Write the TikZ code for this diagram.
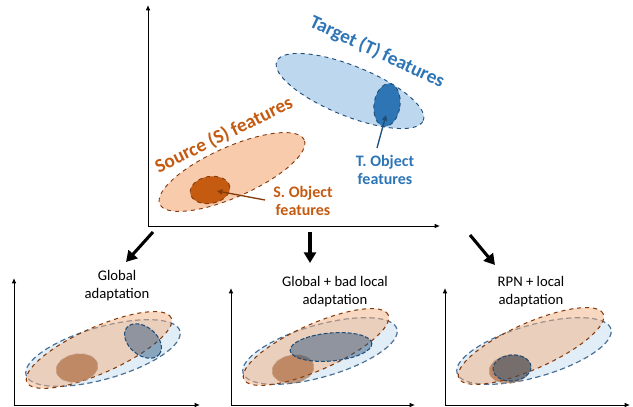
\documentclass[tikz,border=0pt]{standalone}
\usepackage{fontspec}
\setmainfont{Carlito}
\usetikzlibrary{arrows.meta}

\definecolor{srcfill}{HTML}{F8CBAD}
\definecolor{srcline}{HTML}{843C0C}
\definecolor{srctext}{HTML}{C55A11}
\definecolor{tgtfill}{HTML}{BDD7EE}
\definecolor{tgtline}{HTML}{1F4E79}
\definecolor{tgttext}{HTML}{2E75B6}
\definecolor{mixsrc}{HTML}{F4B183}
\definecolor{mixtgt}{HTML}{9DC3E6}

\begin{document}
\begin{tikzpicture}[x=0.75pt, y=0.75pt,
    axis/.style={-{Latex[length=4pt,width=3.5pt]}, line width=0.7pt},
    bigarrow/.style={-{Triangle[length=8pt,width=9pt]}, line width=2.3pt},
    srcbox/.style={fill=srcfill, draw=srcline, dashed, line width=0.7pt},
    tgtbox/.style={fill=tgtfill, draw=tgtline, dashed, line width=0.7pt},
    srcobj/.style={fill=srctext, draw=srcline, dashed, line width=0.7pt},
    tgtobj/.style={fill=tgttext, draw=tgtline, dashed, line width=0.7pt},
    srcbig/.style={fill=mixsrc, fill opacity=0.5, draw=srcline, dashed, line width=0.8pt},
    tgtbig/.style={fill=mixtgt, fill opacity=0.3, draw=tgtline!80, dash pattern=on 4pt off 2.5pt, line width=0.9pt},
    srcsmall/.style={fill=srctext!75!black, fill opacity=0.5, draw=srcline!50, dashed, line width=0.6pt},
    tgtsmall/.style={fill=tgtline, fill opacity=0.45, draw=tgtline, dash pattern=on 3pt off 1.5pt, line width=0.8pt},
    title/.style={font=\fontsize{14.5}{16}\selectfont\bfseries},
    objlabel/.style={font=\fontsize{12}{13.5}\selectfont\bfseries, align=center},
    panellabel/.style={font=\fontsize{11}{13.5}\selectfont, align=center}]
    \useasboundingbox (0,0) rectangle (633,407);

    % Axes of the feature space
    \draw[axis] (148,181) -- (148,402);
    \draw[axis] (148,181) -- (440,181);

    % Source and target distributions
    \draw[srcbox, rotate around={24:(232,235)}] (232,235) ellipse [x radius=79, y radius=25];
    \draw[tgtbox, rotate around={-22:(350,316)}] (350,316) ellipse [x radius=79, y radius=25];
    \draw[srcobj, rotate around={10:(210,217)}] (210,217) ellipse [x radius=20, y radius=13.5];
    \draw[tgtobj, rotate around={-8:(387,302)}] (387,302) ellipse [x radius=13, y radius=21.5];
    \coordinate (sobj) at (217,216);
    \coordinate (tobj) at (386,292);

    % Labels
    \node[title, srctext, rotate=26] (stitle) at (224,272) {Source (S) features};
    \node[title, tgttext, rotate=-25] (ttitle) at (377,355) {Target (T) features};
    \node[objlabel, srctext] (slabel) at (303,206) {S. Object\\features};
    \node[objlabel, tgttext] (tlabel) at (385,237) {T. Object\\features};
    \coordinate (sfrom) at (265,207);
    \coordinate (tfrom) at (377,259);
    \draw[-{Triangle[length=4pt,width=4pt]}, srcline, line width=1pt] (sfrom) -- (sobj);
    \draw[-{Triangle[length=4pt,width=4pt]}, tgtline, line width=1pt] (tfrom) -- (tobj);

    % Arrows towards the three adaptations
    \coordinate (a1) at (153,175);
    \coordinate (b1) at (126,145);
    \coordinate (a2) at (310,175);
    \coordinate (b2) at (310,144);
    \coordinate (a3) at (470,172);
    \coordinate (b3) at (495,142);
    \draw[bigarrow] (a1) -- (b1);
    \draw[bigarrow] (a2) -- (b2);
    \draw[bigarrow] (a3) -- (b3);

    % Global adaptation
    \node[panellabel] (glob) at (117,121) {Global\\adaptation};
    \begin{scope}[shift={(14,2)}]
        \draw[axis] (0,0) -- (0,127);
        \draw[axis] (0,0) -- (186,0);
        \draw[tgtbig, rotate around={16:(89,52)}] (89,52) ellipse [x radius=80, y radius=26];
        \draw[srcbig, rotate around={24:(85,55)}] (85,55) ellipse [x radius=79, y radius=23];
        \draw[srcsmall, rotate around={10:(63,37)}] (63,37) ellipse [x radius=21, y radius=14];
        \draw[tgtsmall, rotate around={-40:(129,64)}] (129,64) ellipse [x radius=21, y radius=14];
    \end{scope}

    % Global + bad local adaptation
    \node[panellabel] (bad) at (335,115) {Global + bad local\\adaptation};
    \begin{scope}[shift={(231,2)}]
        \draw[axis] (0,0) -- (0,117);
        \draw[axis] (0,0) -- (184,0);
        \draw[tgtbig, rotate around={16:(89,54)}] (89,54) ellipse [x radius=80, y radius=26];
        \draw[srcbig, rotate around={24:(85,58)}] (85,58) ellipse [x radius=79, y radius=23];
        \draw[srcsmall, rotate around={10:(62,36)}] (62,36) ellipse [x radius=21, y radius=14];
        \draw[tgtsmall, rotate around={5:(100,58)}] (100,58) ellipse [x radius=41, y radius=14];
    \end{scope}

    % RPN + local adaptation
    \node[panellabel] (rpn) at (531,115) {RPN + local\\adaptation};
    \begin{scope}[shift={(445,2)}]
        \draw[axis] (0,0) -- (0,117);
        \draw[axis] (0,0) -- (185,0);
        \draw[tgtbig, rotate around={16:(89,54)}] (89,54) ellipse [x radius=80, y radius=26];
        \draw[srcbig, rotate around={24:(86,59)}] (86,59) ellipse [x radius=79, y radius=23];
        \draw[srcsmall, rotate around={10:(65,36)}] (65,36) ellipse [x radius=21, y radius=14];
        \draw[tgtsmall, rotate around={5:(67,37)}] (67,37) ellipse [x radius=19, y radius=13];
    \end{scope}
\end{tikzpicture}
\end{document}
